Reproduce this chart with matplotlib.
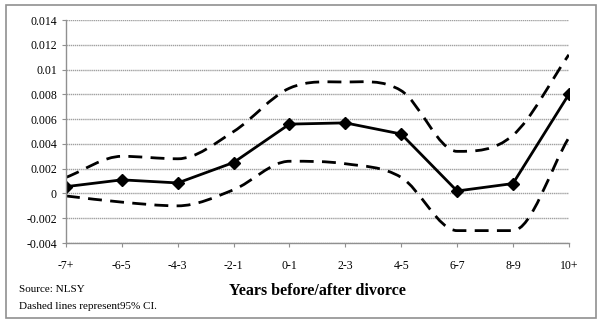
import matplotlib
matplotlib.use("Agg")
import matplotlib.pyplot as plt
import numpy as np
from matplotlib.path import Path
from matplotlib.patches import PathPatch, Rectangle

# values
periods = ["-7+", "-6-5", "-4-3", "-2-1", "0-1", "2-3", "4-5", "6-7", "8-9", "10+"]
estimate = [0.00055, 0.0011, 0.00085, 0.0025, 0.0056, 0.0057, 0.0048, 0.0002, 0.0008, 0.0080]
upper_ci = [0.0013, 0.0030, 0.0028, 0.0050, 0.0085, 0.0090, 0.0083, 0.0034, 0.0047, 0.0112]
lower_ci = [-0.0002, -0.0007, -0.0010, 0.0003, 0.0026, 0.0024, 0.0013, -0.0030, -0.0030, 0.0045]
yticks = [-0.004, -0.002, 0, 0.002, 0.004, 0.006, 0.008, 0.01, 0.012, 0.014]
ytick_labels = ["-0.004", "-0.002", "0", "0.002", "0.004", "0.006", "0.008", "0.01", "0.012", "0.014"]


def smooth_path(x, y):
    # smoothed line: cubic bezier through the points, flat at turning points
    x = np.asarray(x, float)
    y = np.asarray(y, float)
    n = len(x)
    h = np.diff(x)
    sec = np.diff(y) / h
    m = np.zeros(n)
    m[0] = sec[0]
    m[-1] = sec[-1]
    for i in range(1, n - 1):
        if sec[i - 1] * sec[i] <= 0:
            m[i] = 0.0
        else:
            m[i] = (y[i + 1] - y[i - 1]) / (x[i + 1] - x[i - 1])
    verts = [(x[0], y[0])]
    codes = [Path.MOVETO]
    for i in range(n - 1):
        d = h[i] / 3
        verts += [(x[i] + d, y[i] + m[i] * d),
                  (x[i + 1] - d, y[i + 1] - m[i + 1] * d),
                  (x[i + 1], y[i + 1])]
        codes += [Path.CURVE4] * 3
    return Path(verts, codes)


plt.rcParams['font.family'] = ['Liberation Serif', 'DejaVu Serif']

fig = plt.figure(figsize=(6, 3.24), dpi=100)
ax = fig.add_axes([0.11, 0.25, 0.838, 0.688])

x = np.arange(len(periods))

for band in (upper_ci, lower_ci):
    ax.add_patch(PathPatch(smooth_path(x, band), fill=False, edgecolor="black",
                           linewidth=2.0, linestyle=(0, (5, 3)), capstyle="butt"))

ax.plot(x, estimate, color="black", linewidth=2.0, marker="D", markersize=6.5)

ax.set_xlim(0, len(periods) - 1)
ax.set_ylim(-0.004, 0.014)
ax.set_yticks(yticks)
ax.set_yticklabels(ytick_labels)
ax.set_xticks(x)
ax.set_xticklabels(periods)

ax.grid(axis="y", color="#a0a0a0", linewidth=1.0, linestyle=(0, (1, 0.5)))
ax.set_axisbelow(True)
for s in ["top", "right"]:
    ax.spines[s].set_visible(False)
for s in ["left", "bottom"]:
    ax.spines[s].set_color("#909090")
    ax.spines[s].set_linewidth(1.0)
ax.tick_params(axis="both", colors="#909090", labelcolor="black", labelsize=8.5, length=3)
ax.tick_params(axis="x", pad=9)

ax.set_xlabel("Years before/after divorce", fontsize=11.5, fontweight="bold", labelpad=8)

fig.text(0.032, 0.098, "Source: NLSY", fontsize=8)
fig.text(0.032, 0.046, "Dashed lines represent95% CI.", fontsize=8)

fig.patches.append(Rectangle((0.01, 0.02), 0.983, 0.966, transform=fig.transFigure,
                             fill=False, edgecolor="#909090", linewidth=1.2))

fig.savefig("out.png", dpi=100)
